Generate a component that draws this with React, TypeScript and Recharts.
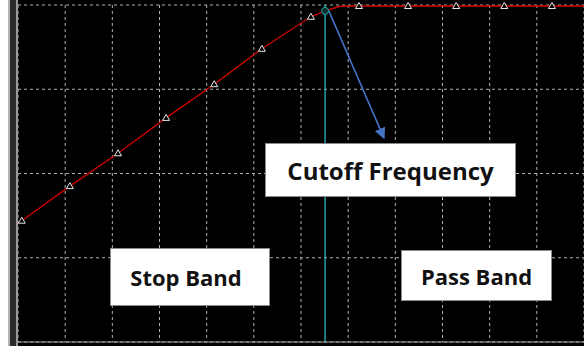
import React from "react";
import { LineChart, Line, XAxis, YAxis, CartesianGrid, ReferenceLine } from "recharts";

// frequency response samples (arbitrary grid units, gain in dB)
const freq = [0, 0.08, 1.1, 2.12, 3.14, 4.16, 5.17, 6.21, 6.51, 6.83, 7.23, 8.27, 9.29, 10.31, 11.32, 12];
const gain = [-26, -25.6, -21.5, -17.6, -13.4, -9.4, -5.2, -1.4, -0.7, -0.15, -0.12, -0.12, -0.12, -0.12, -0.12, -0.12];
const marker = ["", "tri", "tri", "tri", "tri", "tri", "tri", "tri", "circle", "", "tri", "tri", "tri", "tri", "tri", ""];

const cutoffFreq = 6.51;
const arrowFreq = [6.59, 7.76];
const arrowGain = [-0.7, -15.8];

const xTicks = [0, 1, 2, 3, 4, 5, 6, 7, 8, 9, 10, 11, 12];
const yTicks = [-40, -30, -20, -10, 0];

const responseData = freq.map((f, i) => ({ f, g: gain[i], kind: marker[i] }));
const arrowData = arrowFreq.map((f, i) => ({ f, g: arrowGain[i] }));

const SampleDot = (props: any) => {
  const { cx, cy, payload, index } = props;
  if (payload.kind === "tri") {
    return (
      <polygon
        key={index}
        points={`${cx},${cy - 3.5} ${cx + 3.5},${cy + 2.5} ${cx - 3.5},${cy + 2.5}`}
        fill="#000"
        stroke="#e8e8e8"
        strokeWidth={1}
      />
    );
  }
  if (payload.kind === "circle") {
    return <circle key={index} cx={cx} cy={cy} r={3.5} fill="#0a3030" stroke="#2aa8a8" strokeWidth={1} />;
  }
  return <g key={index} />;
};

const boxStyle: React.CSSProperties = {
  position: "absolute",
  background: "#fff",
  border: "1px solid #8a8a8a",
  boxSizing: "border-box",
  display: "flex",
  alignItems: "center",
  justifyContent: "center",
  fontFamily: "'Open Sans', Lato, sans-serif",
  fontWeight: 700,
  color: "#111",
};

export default function App() {
  return (
    <div style={{ position: "absolute", left: 0, top: 0, width: 584, height: 346, background: "#fff", overflow: "hidden" }}>
      <svg width={0} height={0} style={{ position: "absolute" }}>
        <defs>
          <marker id="arrowHead" viewBox="0 0 10 10" refX="9" refY="5" markerWidth="7" markerHeight="7" orient="auto" markerUnits="strokeWidth">
            <path d="M0,0 L10,5 L0,10 z" fill="#4472c4" />
          </marker>
        </defs>
      </svg>
      {/* window frame */}
      <div style={{ position: "absolute", left: 8, top: 0, width: 2, height: 346, background: "#b4b4b4" }} />
      <div style={{ position: "absolute", left: 10, top: 0, width: 6, height: 346, background: "#2a2a2a" }} />
      <div style={{ position: "absolute", left: 16, top: 0, width: 2, height: 346, background: "#9a9a9a" }} />
      <div style={{ position: "absolute", left: 18, top: 0, width: 566, height: 346, background: "#000" }}>
        <LineChart width={566} height={346} data={responseData} margin={{ top: 5, right: 0, bottom: 4, left: 0 }}>
          <CartesianGrid stroke="#b0b0b0" strokeDasharray="3 3" strokeWidth={1} />
          <XAxis type="number" dataKey="f" domain={[0, 12]} ticks={xTicks} hide />
          <YAxis type="number" domain={[-40, 0]} ticks={yTicks} hide />
          <ReferenceLine y={-40} stroke="#a0a0a0" strokeWidth={1} />
          <ReferenceLine x={cutoffFreq} stroke="#2ec8c8" strokeWidth={1.2} />
          <Line
            data={responseData}
            dataKey="g"
            type="linear"
            stroke="#d00000"
            strokeWidth={1.3}
            dot={SampleDot}
            activeDot={false}
            isAnimationActive={false}
          />
          <Line
            data={arrowData}
            dataKey="g"
            type="linear"
            stroke="#4472c4"
            strokeWidth={1.6}
            dot={false}
            activeDot={false}
            markerEnd="url(#arrowHead)"
            isAnimationActive={false}
          />
        </LineChart>
      </div>
      <div style={{ ...boxStyle, left: 265, top: 143, width: 251, height: 54, fontSize: 24 }}>Cutoff Frequency</div>
      <div style={{ ...boxStyle, left: 110, top: 248, width: 160, height: 58, fontSize: 22, paddingRight: 8 }}>Stop Band</div>
      <div style={{ ...boxStyle, left: 401, top: 250, width: 151, height: 51, fontSize: 22 }}>Pass Band</div>
    </div>
  );
}
